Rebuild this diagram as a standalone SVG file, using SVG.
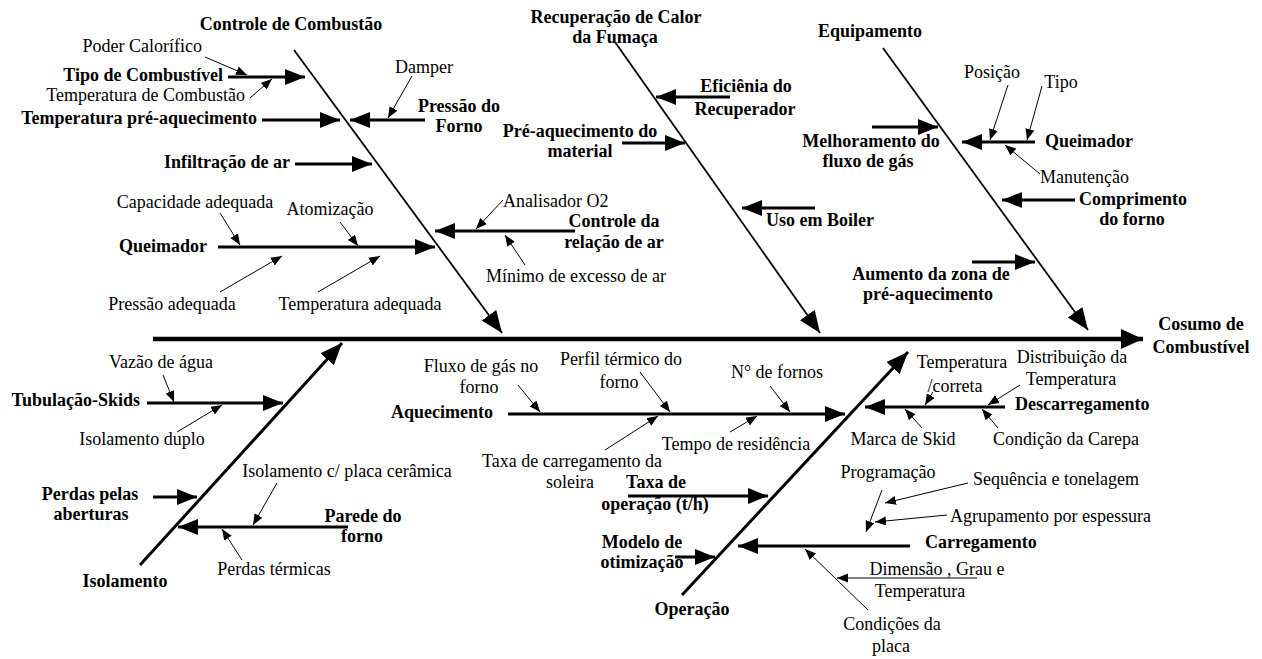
<svg xmlns="http://www.w3.org/2000/svg" width="1262" height="659" viewBox="0 0 1262 659" font-family="Liberation Serif, Times New Roman, DejaVu Serif, serif">
<style>
text{font-size:18px;fill:#000}
.b{font-weight:bold}
.m{text-anchor:middle}
.e{text-anchor:end}
.bone{stroke:#000;stroke-width:1.8;fill:none}
.boneb{stroke:#000;stroke-width:3;fill:none}
.spine{stroke:#000;stroke-width:4.5;fill:none}
.br{stroke:#000;stroke-width:3;fill:none}
.th{stroke:#000;stroke-width:1;fill:none}
</style>
<defs>
<marker id="big" markerUnits="userSpaceOnUse" markerWidth="22" markerHeight="18" refX="20" refY="8" orient="auto"><path d="M0,0 L20,8 L0,16 z" fill="#000"/></marker>
<marker id="bone" markerUnits="userSpaceOnUse" markerWidth="24" markerHeight="20" refX="22" refY="9" orient="auto"><path d="M0,0 L22,9 L0,18 z" fill="#000"/></marker>
<marker id="spn" markerUnits="userSpaceOnUse" markerWidth="24" markerHeight="22" refX="22" refY="10" orient="auto"><path d="M0,0 L22,10 L0,20 z" fill="#000"/></marker>
<marker id="sm" markerUnits="userSpaceOnUse" markerWidth="12" markerHeight="10" refX="11" refY="4.5" orient="auto"><path d="M0,0 L11,4.5 L0,9 z" fill="#000"/></marker>
</defs>

<g id="connectors">
<line class="spine" x1="153" y1="339" x2="1143" y2="339" marker-end="url(#spn)"/>
<line class="bone" x1="294" y1="50" x2="502" y2="333" marker-end="url(#bone)"/>
<line class="bone" x1="615" y1="42" x2="820" y2="333" marker-end="url(#bone)"/>
<line class="bone" x1="883" y1="48" x2="1088" y2="330" marker-end="url(#bone)"/>
<line class="boneb" x1="140" y1="565" x2="342" y2="343" marker-end="url(#bone)"/>
<line class="boneb" x1="682" y1="595" x2="908" y2="352" marker-end="url(#bone)"/>

<line class="br" x1="228" y1="77" x2="305" y2="77" marker-end="url(#big)"/>
<line class="br" x1="262" y1="120" x2="340" y2="120" marker-end="url(#big)"/>
<line class="br" x1="425" y1="120" x2="350" y2="120" marker-end="url(#big)"/>
<line class="br" x1="295" y1="164" x2="372" y2="164" marker-end="url(#big)"/>
<line class="br" x1="218" y1="247" x2="435" y2="247" marker-end="url(#big)"/>
<line class="br" x1="575" y1="231" x2="435" y2="231" marker-end="url(#big)"/>
<line class="br" x1="730" y1="97" x2="656" y2="97" marker-end="url(#big)"/>
<line class="br" x1="622" y1="143" x2="685" y2="143" marker-end="url(#big)"/>
<line class="br" x1="815" y1="208" x2="742" y2="208" marker-end="url(#big)"/>
<line class="br" x1="872" y1="127" x2="938" y2="127" marker-end="url(#big)"/>
<line class="br" x1="1035" y1="142" x2="962" y2="142" marker-end="url(#big)"/>
<line class="br" x1="1075" y1="200" x2="1002" y2="200" marker-end="url(#big)"/>
<line class="br" x1="972" y1="262" x2="1035" y2="262" marker-end="url(#big)"/>
<line class="br" x1="147" y1="403" x2="283" y2="403" marker-end="url(#big)"/>
<line class="br" x1="153" y1="497" x2="197" y2="497" marker-end="url(#big)"/>
<line class="br" x1="348" y1="527" x2="178" y2="527" marker-end="url(#big)"/>
<line class="br" x1="508" y1="414" x2="845" y2="414" marker-end="url(#big)"/>
<line class="br" x1="628" y1="496" x2="768" y2="496" marker-end="url(#big)"/>
<line class="br" x1="675" y1="557" x2="715" y2="557" marker-end="url(#big)"/>
<line class="br" x1="910" y1="546" x2="738" y2="546" marker-end="url(#big)"/>
<line class="br" x1="1005" y1="407" x2="865" y2="407" marker-end="url(#big)"/>

<line class="th" x1="205" y1="57" x2="247" y2="75" marker-end="url(#sm)"/>
<line class="th" x1="250" y1="98" x2="272" y2="79" marker-end="url(#sm)"/>
<line class="th" x1="412" y1="76" x2="388" y2="118" marker-end="url(#sm)"/>
<line class="th" x1="220" y1="213" x2="240" y2="245" marker-end="url(#sm)"/>
<line class="th" x1="340" y1="222" x2="358" y2="246" marker-end="url(#sm)"/>
<line class="th" x1="220" y1="292" x2="282" y2="256" marker-end="url(#sm)"/>
<line class="th" x1="318" y1="292" x2="380" y2="256" marker-end="url(#sm)"/>
<line class="th" x1="503" y1="200" x2="476" y2="229" marker-end="url(#sm)"/>
<line class="th" x1="525" y1="265" x2="505" y2="235" marker-end="url(#sm)"/>
<line class="th" x1="1008" y1="85" x2="990" y2="140" marker-end="url(#sm)"/>
<line class="th" x1="1042" y1="86" x2="1027" y2="140" marker-end="url(#sm)"/>
<line class="th" x1="1040" y1="174" x2="1005" y2="145" marker-end="url(#sm)"/>
<line class="th" x1="163" y1="375" x2="174" y2="402" marker-end="url(#sm)"/>
<line class="th" x1="177" y1="432" x2="222" y2="405" marker-end="url(#sm)"/>
<line class="th" x1="277" y1="483" x2="253" y2="525" marker-end="url(#sm)"/>
<line class="th" x1="242" y1="560" x2="222" y2="529" marker-end="url(#sm)"/>
<line class="th" x1="518" y1="385" x2="540" y2="412" marker-end="url(#sm)"/>
<line class="th" x1="640" y1="372" x2="670" y2="412" marker-end="url(#sm)"/>
<line class="th" x1="770" y1="386" x2="790" y2="412" marker-end="url(#sm)"/>
<line class="th" x1="605" y1="450" x2="658" y2="416" marker-end="url(#sm)"/>
<line class="th" x1="730" y1="432" x2="757" y2="416" marker-end="url(#sm)"/>
<line class="th" x1="933" y1="392" x2="925" y2="405" marker-end="url(#sm)"/>
<line class="th" x1="1020" y1="385" x2="988" y2="405" marker-end="url(#sm)"/>
<line class="th" x1="922" y1="428" x2="905" y2="409" marker-end="url(#sm)"/>
<line class="th" x1="998" y1="428" x2="982" y2="409" marker-end="url(#sm)"/>
<line class="th" x1="882" y1="490" x2="866" y2="532" marker-end="url(#sm)"/>
<line class="th" x1="968" y1="483" x2="885" y2="503" marker-end="url(#sm)"/>
<line class="th" x1="947" y1="515" x2="875" y2="522" marker-end="url(#sm)"/>
<line class="th" x1="868" y1="610" x2="805" y2="549" marker-end="url(#sm)"/>
<line class="th" x1="977" y1="578" x2="837" y2="578" marker-end="url(#sm)"/>
</g>

<g id="head"><text class="b m" x="1201" y="330">Cosumo de</text><text class="b m" x="1201" y="353">Combustível</text></g>

<g id="controle-combustao">
<text class="b m" x="291" y="30">Controle de Combustão</text>
<text class="b e" x="223" y="81">Tipo de Combustível</text>
<text class="e" x="202" y="52">Poder Calorífico</text>
<text class="e" x="245" y="101">Temperatura de Combustão</text>
<text class="b e" x="257" y="124">Temperatura pré-aquecimento</text>
<text class="m" x="424" y="73">Damper</text>
<text class="b m" x="459" y="112">Pressão do</text>
<text class="b m" x="459" y="132">Forno</text>
<text class="b e" x="290" y="168">Infiltração de ar</text>
<text class="m" x="195" y="208">Capacidade adequada</text>
<text class="m" x="330" y="215">Atomização</text>
<text class="b e" x="207" y="252">Queimador</text>
<text class="m" x="172" y="310">Pressão adequada</text>
<text class="m" x="360" y="310">Temperatura adequada</text>
<text x="503" y="207">Analisador O2</text>
<text class="b m" x="614" y="227">Controle da</text>
<text class="b m" x="614" y="248">relação de ar</text>
<text class="m" x="576" y="282">Mínimo de excesso de ar</text>
</g>

<g id="recuperacao">
<text class="b m" x="616" y="23">Recuperação de Calor</text>
<text class="b m" x="615" y="43">da Fumaça</text>
<text class="b m" x="746" y="92">Eficiênia do</text>
<text class="b m" x="745" y="115">Recuperador</text>
<text class="b m" x="580" y="137">Pré-aquecimento do</text>
<text class="b m" x="580" y="157">material</text>
<text class="b m" x="820" y="226">Uso em Boiler</text>
</g>

<g id="equipamento">
<text class="b m" x="870" y="37">Equipamento</text>
<text class="m" x="992" y="78">Posição</text>
<text class="m" x="1061" y="88">Tipo</text>
<text class="b" x="1045" y="147">Queimador</text>
<text x="1040" y="183">Manutenção</text>
<text class="b m" x="871" y="147">Melhoramento do</text>
<text class="b m" x="868" y="167">fluxo de gás</text>
<text class="b m" x="1133" y="205">Comprimento</text>
<text class="b m" x="1132" y="225">do forno</text>
<text class="b m" x="931" y="280">Aumento da zona de</text>
<text class="b m" x="928" y="300">pré-aquecimento</text>
</g>

<g id="isolamento">
<text class="m" x="161" y="368">Vazão de água</text>
<text class="b e" x="140" y="406">Tubulação-Skids</text>
<text class="m" x="142" y="445">Isolamento duplo</text>
<text class="m" x="347" y="477">Isolamento c/ placa cerâmica</text>
<text class="b m" x="90" y="500">Perdas pelas</text>
<text class="b m" x="91" y="520">aberturas</text>
<text class="b m" x="363" y="522">Parede do</text>
<text class="b m" x="362" y="542">forno</text>
<text class="m" x="274" y="575">Perdas térmicas</text>
<text class="b m" x="125" y="587">Isolamento</text>
</g>

<g id="operacao">
<text class="m" x="481" y="372">Fluxo de gás no</text>
<text class="m" x="479" y="393">forno</text>
<text class="m" x="621" y="365">Perfil térmico do</text>
<text class="m" x="619" y="388">forno</text>
<text class="m" x="777" y="378">N° de fornos</text>
<text class="b e" x="493" y="418">Aquecimento</text>
<text class="m" x="736" y="450">Tempo de residência</text>
<text class="m" x="572" y="467">Taxa de carregamento da</text>
<text class="m" x="570" y="488">soleira</text>
<text class="b m" x="656" y="488">Taxa de</text>
<text class="b m" x="655" y="510">operação (t/h)</text>
<text class="b m" x="642" y="548">Modelo de</text>
<text class="b m" x="642" y="568">otimização</text>
<text class="b m" x="692" y="615">Operação</text>
<text class="m" x="962" y="368">Temperatura</text>
<text class="m" x="955" y="392">/correta</text>
<text class="m" x="1072" y="363">Distribuição da</text>
<text class="m" x="1071" y="385">Temperatura</text>
<text class="b" x="1015" y="410">Descarregamento</text>
<text class="m" x="903" y="445">Marca de Skid</text>
<text class="m" x="1066" y="445">Condição da Carepa</text>
<text class="m" x="888" y="478">Programação</text>
<text x="973" y="485">Sequência e tonelagem</text>
<text x="950" y="522">Agrupamento por espessura</text>
<text class="b" x="925" y="548">Carregamento</text>
<text class="m" x="937" y="575">Dimensão , Grau e</text>
<text class="m" x="920" y="597">Temperatura</text>
<text class="m" x="892" y="630">Condições da</text>
<text class="m" x="891" y="652">placa</text>
</g>
</svg>
